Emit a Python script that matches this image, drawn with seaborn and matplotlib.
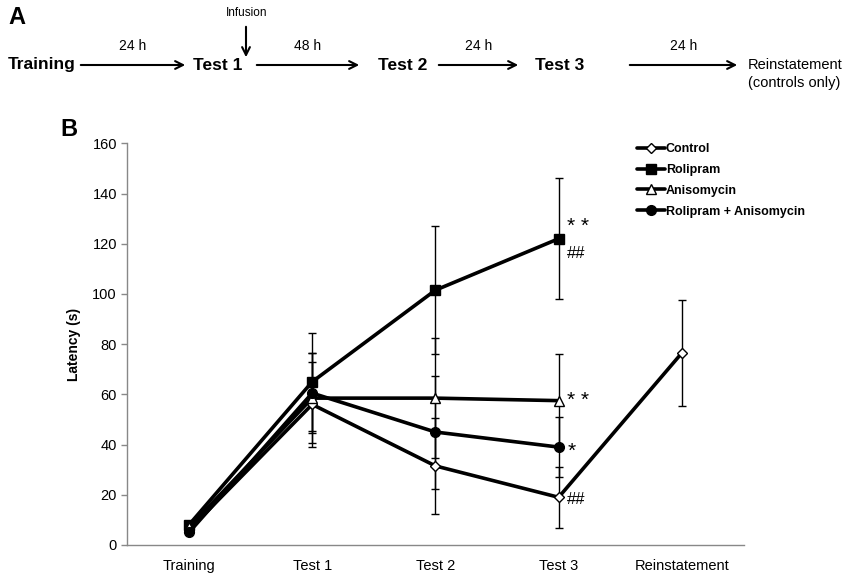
import matplotlib.pyplot as plt
import seaborn as sns
import pandas as pd
import numpy as np

# sessions and group means / SEM
sessions = ['Training', 'Test 1', 'Test 2', 'Test 3', 'Reinstatement']
groups = ['Control', 'Rolipram', 'Anisomycin', 'Rolipram + Anisomycin']

control_mean = [6, 56, 31.5, 19, 76.5]
control_err = [0, 17, 19, 12.2, 21]
rolipram_mean = [8, 65, 101.5, 122]
rolipram_err = [0, 19.5, 25.5, 24]
aniso_mean = [7, 58.5, 58.5, 57.5]
aniso_err = [0, 18, 24, 18.6]
rolani_mean = [5, 60.5, 45, 39]
rolani_err = [0, 16, 22.5, 12]

means = [control_mean, rolipram_mean, aniso_mean, rolani_mean]
errs = [control_err, rolipram_err, aniso_err, rolani_err]
markers = ['D', 's', '^', 'o']
faces = ['white', 'black', 'white', 'black']
msizes = [5, 7, 7, 7]

rows = []
for g, m, e in zip(groups, means, errs):
    for i, (v, s) in enumerate(zip(m, e)):
        rows.append({'group': g, 'x': i, 'session': sessions[i], 'latency': v, 'sem': s})
df = pd.DataFrame(rows)

sns.set_style('white')
plt.rcParams['font.family'] = ['Liberation Sans', 'DejaVu Sans']
plt.rcParams['text.color'] = 'black'
plt.rcParams['axes.labelcolor'] = 'black'

fig = plt.figure(figsize=(8.5, 5.76), dpi=100)

# ---- panel A: timeline ----
fig.text(8 / 850, 1 - 18 / 576, 'A', fontsize=17, fontweight='bold', va='center')
ty = 1 - 65 / 576
labels_a = [('Training', 8, 'bold'), ('Test 1', 193, 'bold'), ('Test 2', 378, 'bold'),
            ('Test 3', 535, 'bold')]
for txt, px, w in labels_a:
    fig.text(px / 850, ty, txt, fontsize=12.5, fontweight=w, va='center')
fig.text(748 / 850, ty, 'Reinstatement', fontsize=10.5, va='center')
fig.text(748 / 850, 1 - 83 / 576, '(controls only)', fontsize=10.5, va='center')
arrows = [(78, 188, '24 h'), (254, 362, '48 h'), (436, 521, '24 h'), (627, 740, '24 h')]
for x0, x1, lab in arrows:
    fig.add_artist(plt.Annotation('', xy=(x1 / 850, ty), xytext=(x0 / 850, ty),
                                  xycoords='figure fraction',
                                  arrowprops=dict(arrowstyle='->', lw=1.5, color='black',
                                                  mutation_scale=14)))
    fig.text((x0 + x1) / 2 / 850, 1 - 46 / 576, lab, fontsize=10, ha='center', va='center')
fig.add_artist(plt.Annotation('', xy=(246 / 850, 1 - 60 / 576), xytext=(246 / 850, 1 - 24 / 576),
                              xycoords='figure fraction',
                              arrowprops=dict(arrowstyle='->', lw=1.5, color='black',
                                              mutation_scale=14)))
fig.text(247 / 850, 1 - 13 / 576, 'Infusion', fontsize=8.5, ha='center', va='center')

# ---- panel B ----
fig.text(60 / 850, 1 - 130 / 576, 'B', fontsize=17, fontweight='bold', va='center')
ax = fig.add_axes([127.3 / 850, 1 - 545 / 576, (743.5 - 127.3) / 850, (545 - 143.3) / 576])

for g, mk, fc, ms in zip(groups, markers, faces, msizes):
    sub = df[df['group'] == g]
    ax.errorbar(sub['x'], sub['latency'], yerr=sub['sem'], fmt='none', ecolor='black',
                elinewidth=1, capsize=3, capthick=1, zorder=1)
for g, mk, fc, ms in zip(groups, markers, faces, msizes):
    sub = df[df['group'] == g]
    sns.lineplot(data=sub, x='x', y='latency', ax=ax, color='black', lw=2.6,
                 marker=mk, markersize=ms, markerfacecolor=fc, markeredgecolor='black',
                 markeredgewidth=1, label=g, zorder=3)

ax.set_xlim(-0.5, 4.5)
ax.set_ylim(0, 160)
ax.set_yticks(np.arange(0, 161, 20))
ax.set_xticks(range(len(sessions)))
ax.set_xticklabels(sessions)
ax.tick_params(axis='x', length=0, labelsize=10.5, pad=10, labelcolor='black')
ax.tick_params(axis='y', length=4, width=1, color='#888888', labelsize=10.5, left=True,
               labelcolor='black')
ax.set_xlabel('')
ax.set_ylabel('Latency (s)', fontsize=10, fontweight='bold', labelpad=8)
sns.despine(ax=ax)
for side in ['left', 'bottom']:
    ax.spines[side].set_color('#888888')
    ax.spines[side].set_linewidth(1)

leg = ax.legend(loc='upper left', bbox_to_anchor=(626 / 850, 1 - 132 / 576),
                bbox_transform=fig.transFigure, frameon=False, handlelength=2.2,
                handletextpad=0.1, labelspacing=0.7, prop={'weight': 'bold', 'size': 9})

# significance marks
ax.text(3.07, 127, '* *', fontsize=15, ha='left', va='center')
ax.text(3.07, 116, '##', fontsize=12, ha='left', va='center')
ax.text(3.07, 57.5, '* *', fontsize=15, ha='left', va='center')
ax.text(3.07, 37.5, '*', fontsize=15, ha='left', va='center')
ax.text(3.07, 18, '##', fontsize=12, ha='left', va='center')

fig.savefig('out.png', dpi=100)
